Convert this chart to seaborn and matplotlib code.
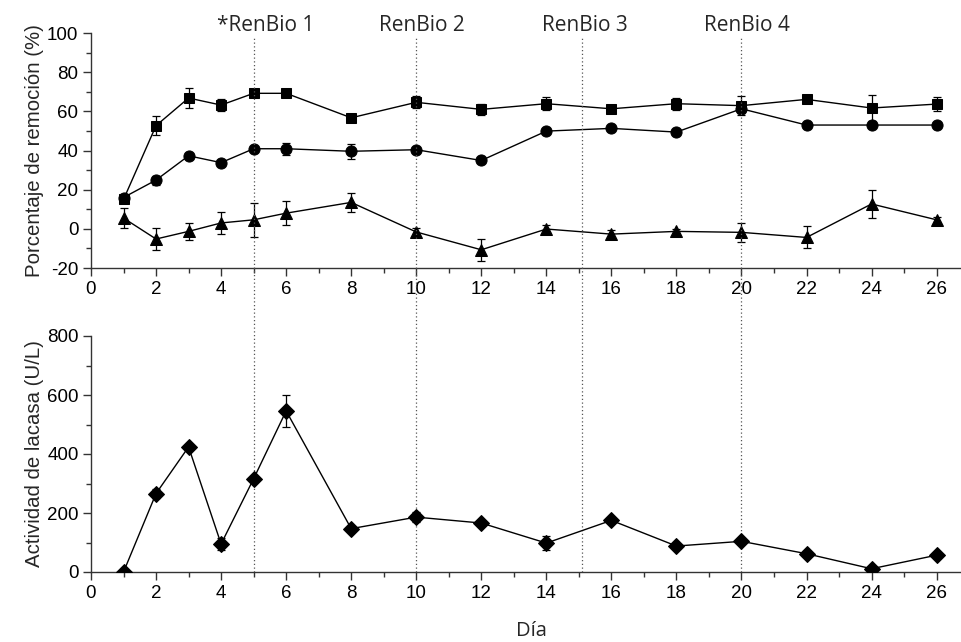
import numpy as np
import pandas as pd
import matplotlib
matplotlib.use("Agg")
import matplotlib.pyplot as plt
from matplotlib.ticker import MultipleLocator
import seaborn as sns

# ---------------- data ----------------
days = [1, 2, 3, 4, 5, 6, 8, 10, 12, 14, 16, 18, 20, 22, 24, 26]

square = [15, 52.7, 66.8, 63.2, 69.2, 69.2, 56.7, 64.6, 61.0, 63.9, 61.3, 63.9, 62.9, 66.1, 61.7, 63.7]
square_err = [1, 4.7, 5, 3, 1, 1, 1, 3, 3, 3.2, 1, 3, 4.7, 2, 6.5, 3.4]

circle = [16, 24.9, 37.3, 33.8, 40.9, 40.9, 39.6, 40.4, 34.9, 49.9, 51.3, 49.4, 61.3, 53.0, 53.0, 53.0]
circle_err = [1, 2.3, 1, 1, 1, 3, 3.7, 1, 1, 1, 1, 1, 2, 1, 1, 1]

triangle = [5.5, -5.2, -1.3, 3.0, 4.6, 8.0, 13.5, -1.6, -10.7, -0.1, -2.7, -1.3, -1.8, -4.4, 12.7, 4.6]
triangle_err = [5.3, 5.5, 4.5, 5.5, 8.8, 6.0, 5.0, 2.0, 5.5, 2.3, 2.0, 1.0, 4.8, 5.6, 7.0, 1.5]

laccase = [0, 266, 424, 95, 316, 546, 147, 186, 166, 98, 175, 88, 104, 62, 11, 57]
laccase_err = [0, 15, 8, 20, 8, 55, 8, 17, 10, 23, 8, 8, 8, 8, 5, 8]

renbio_days = [5, 10, 15.1, 20]
renbio_labels = ["*RenBio 1", "RenBio 2", "RenBio 3", "RenBio 4"]

xticks = list(range(0, 27, 2))
top_yticks = [-20, 0, 20, 40, 60, 80, 100]
bot_yticks = [0, 200, 400, 600, 800]

# ---------------- style ----------------
sns.set_style("ticks")
plt.rcParams["font.family"] = ["Liberation Sans", "DejaVu Sans"]
plt.rcParams["axes.unicode_minus"] = False
plt.rcParams["axes.edgecolor"] = "#333333"
plt.rcParams["axes.linewidth"] = 1.0

fig = plt.figure(figsize=(9.61, 6.42), dpi=100)
W, H = 961, 642
left = 91 / W
width = 1 - left
ax1 = fig.add_axes([left, 1 - 268 / H, width, (268 - 33) / H])
ax2 = fig.add_axes([left, 1 - 572 / H, width, (572 - 336) / H])

for vals, errs, mk, ms in [(square, square_err, "s", 7.6),
                           (circle, circle_err, "o", 8.0),
                           (triangle, triangle_err, "^", 9.0)]:
    df = pd.DataFrame({"day": days, "value": vals})
    sns.lineplot(data=df, x="day", y="value", marker=mk, color="black",
                 linewidth=1.0, markersize=ms, markeredgecolor="black",
                 legend=False, ax=ax1, zorder=3)
    ax1.errorbar(days, vals, yerr=errs, fmt="none", ecolor="black",
                 elinewidth=0.9, capsize=3, capthick=0.9, zorder=2)

bot_df = pd.DataFrame({"day": days, "value": laccase})
sns.lineplot(data=bot_df, x="day", y="value", marker="D", color="black",
             linewidth=1.0, markersize=8.5, markeredgecolor="black",
             legend=False, ax=ax2, zorder=3)
ax2.errorbar(days, laccase, yerr=laccase_err, fmt="none", ecolor="black",
             elinewidth=0.9, capsize=3, capthick=0.9, zorder=2)

for ax, yt, ylim, minor in [(ax1, top_yticks, (-20, 100), 10), (ax2, bot_yticks, (0, 800), 100)]:
    ax.set_xlim(0, 26.75)
    ax.set_ylim(*ylim)
    ax.set_xticks(xticks)
    ax.set_yticks(yt)
    ax.xaxis.set_minor_locator(MultipleLocator(1))
    ax.yaxis.set_minor_locator(MultipleLocator(minor))
    ax.tick_params(which="major", direction="out", length=6, width=1.0,
                   labelsize=13.5, colors="#333333", labelcolor="black", pad=3)
    ax.tick_params(which="minor", direction="out", length=3.5, width=1.0, colors="#333333")
    sns.despine(ax=ax)
    ax.set_xlabel("")
    ax.patch.set_alpha(0)

ax1.set_ylabel("Porcentaje de remoción (%)", fontsize=14.7, labelpad=2)
ax2.set_ylabel("Actividad de lacasa (U/L)", fontsize=14.7, labelpad=2)

# vertical dotted lines across both panels
span = (572 - 38) / (572 - 336)
for d in renbio_days:
    ax2.axvline(d, ymin=0, ymax=span, clip_on=False, color="#555555",
                linestyle=(0, (1, 2)), linewidth=0.9, zorder=1)

label_font = ["Open Sans", "DejaVu Sans"]
offsets = [0.37, 0.17, 0.08, 0.17]
for d, lab, off in zip(renbio_days, renbio_labels, offsets):
    ax1.text(d + off, 1 + 2 / (268 - 33), lab,
             transform=ax1.get_xaxis_transform(), ha="center", va="baseline",
             fontsize=15, family=label_font)

fig.text(531 / W, 0.002, "Día", ha="center", va="bottom",
         fontsize=14.5, family=label_font)

fig.savefig("out.png", dpi=100)
